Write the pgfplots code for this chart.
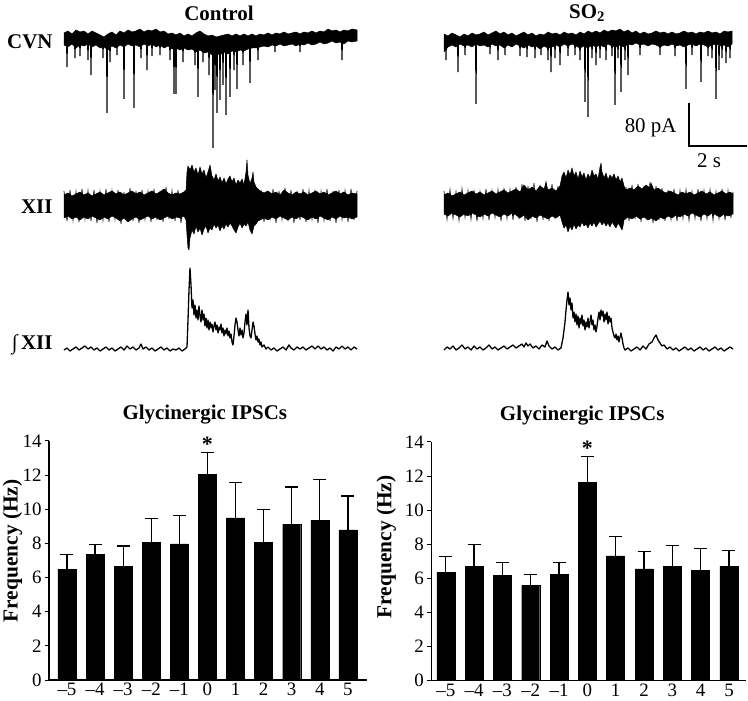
\documentclass[border=0pt]{standalone}
\usepackage{fontspec}
\setmainfont{Liberation Serif}
\usepackage{pgfplots}
\pgfplotsset{compat=1.18}
\newcommand{\sz}[1]{\fontsize{#1}{#1}\selectfont}
\pgfplotsset{
  barax/.style={
    scale only axis, anchor=south west,
    ymin=0, ymax=14, ytick={0,2,...,14},
    xtick={-5,...,5},
    xticklabels={--5,--4,--3,--2,--1,0,1,2,3,4,5},
    axis lines*=left,
    axis line style={line width=1.2bp},
    tick align=outside, major tick length=4bp,
    ytick style={line width=1bp, black},
    xtick style={draw=none},
    /pgf/number format/assume math mode=true,
    tick label style={font=\sz{19}},
    xticklabel style={inner sep=0.5pt, yshift=1.5bp},
    ylabel={\textbf{Frequency (Hz)}},
    ylabel style={font=\sz{21.5}, anchor=north, inner sep=0pt},
    title style={font=\sz{21}\bfseries},
    clip=false,
  },
  bars/.style={
    ybar, bar width=18bp, fill=black, draw=black,
    error bars/.cd, y dir=plus, y explicit,
    error bar style={line width=1.3bp, black},
    error mark options={rotate=90, mark size=6.5bp, line width=1.3bp, black},
  },
}
\begin{document}
\begin{tikzpicture}
\useasboundingbox (0,0) rectangle (748bp,701bp);
% ---------- traces, in pixel coordinates ----------
\begin{axis}[at={(0,0)}, anchor=south west, scale only axis,
  width=748bp, height=701bp, xmin=0, xmax=748, ymin=0, ymax=701,
  y dir=reverse, hide axis, clip=false]
% CVN control band
\addplot[fill=black, draw=black, line width=0.5bp, line join=round] coordinates {
(64,33)(68,31)(72,34)(76,30)(80,32)(84,31)(88,34)(92,31)(96,33)(100,35)(104,37)(108,34)(112,32)(116,35)(120,31)(124,33)(128,30)(132,32)(136,31)(140,29)(144,32)(148,30)(152,31)(156,29)(160,32)(164,31)(168,34)(172,33)(176,35)(180,33)(184,36)(188,34)(192,36)(196,33)(200,31)(204,34)(208,36)(212,35)(216,37)(220,36)(224,35)(228,34)(232,36)(236,34)(240,36)(244,34)(248,36)(252,34)(256,36)(260,34)(264,35)(268,33)(272,35)(276,33)(280,34)(284,32)(288,34)(292,33)(296,32)(300,34)(304,32)(308,33)(312,31)(316,33)(320,31)(324,32)(328,29)(332,31)(336,30)(340,32)(344,30)(348,31)(352,29)(357,30)
(357,41)(352,42)(348,41)(344,44)(340,42)(336,43)(332,41)(328,43)(324,44)(320,42)(316,44)(312,45)(308,43)(304,45)(300,44)(296,46)(292,44)(288,45)(284,46)(280,44)(276,46)(272,45)(268,47)(264,46)(260,47)(256,48)(252,48)(248,49)(244,51)(240,50)(236,52)(232,51)(228,54)(224,52)(220,55)(216,53)(212,55)(208,52)(204,53)(200,50)(196,52)(192,49)(188,50)(184,48)(180,50)(176,48)(172,49)(168,46)(164,48)(160,45)(156,47)(152,44)(148,46)(144,44)(140,47)(136,45)(132,46)(128,44)(124,47)(120,45)(116,48)(112,46)(108,50)(104,47)(100,48)(96,45)(92,47)(88,44)(84,46)(80,45)(76,48)(72,44)(68,47)(64,45)
} -- cycle;
% CVN control spikes
\addplot[black, line width=1.1bp] coordinates {
(64,40)(66.6,40)(67,67)(67.4,40)(74.6,40)(75,58)(75.4,40)(79.6,40)(80,56)(80.4,40)(87.6,40)(88,60)(88.4,40)(90.6,40)(91,75)(91.4,40)(102.6,40)(103,58)(103.4,40)(106.6,40)(107,113)(107.4,40)(109.6,40)(110,62)(110.4,40)(116.6,40)(117,55)(117.4,40)(123.6,40)(124,99)(124.4,40)(133.6,40)(134,108)(134.4,40)(140.6,40)(141,58)(141.4,40)(146.6,40)(147,70)(147.4,40)(151.6,40)(152,56)(152.4,40)(159.6,40)(160,55)(160.4,40)(169.6,40)(170,60)(170.4,40)(173.6,40)(174,94)(174.4,40)(175.6,40)(176,94)(176.4,40)(182.6,40)(183,62)(183.4,40)(194.6,40)(195,65)(195.4,40)(197.6,40)(198,97)(198.4,40)(202.6,40)(203,62)(203.4,40)(208.6,40)(209,75)(209.4,40)(212.6,40)(213,148)(213.4,40)(214.6,40)(215,90)(215.4,40)(216.6,40)(217,113)(217.4,40)(219.6,40)(220,100)(220.4,40)(222.6,40)(223,85)(223.4,40)(225.6,40)(226,115)(226.4,40)(229.6,40)(230,97)(230.4,40)(233.6,40)(234,70)(234.4,40)(236.6,40)(237,89)(237.4,40)(242.6,40)(243,65)(243.4,40)(249.6,40)(250,83)(250.4,40)(257.6,40)(258,60)(258.4,40)(274.6,40)(275,52)(275.4,40)(299.6,40)(300,52)(300.4,40)(341.6,40)(342,60)(342.4,40)(357,40)
};
% CVN SO2 band
\addplot[fill=black, draw=black, line width=0.5bp, line join=round] coordinates {
(444,34)(448,36)(452,33)(456,35)(460,37)(464,34)(468,36)(472,33)(476,35)(480,34)(484,32)(488,35)(492,33)(496,31)(500,34)(504,32)(508,35)(512,33)(516,36)(520,34)(524,32)(528,35)(532,33)(536,36)(540,34)(544,35)(548,32)(552,34)(556,33)(560,35)(564,32)(568,34)(572,33)(576,35)(580,32)(584,34)(588,31)(592,33)(596,31)(600,33)(604,30)(608,32)(612,30)(616,31)(620,29)(624,32)(628,30)(632,33)(636,31)(640,34)(644,32)(648,34)(652,33)(656,31)(660,33)(664,32)(668,34)(672,32)(676,34)(680,33)(684,31)(688,33)(692,32)(696,34)(700,32)(704,33)(708,31)(712,33)(716,32)(720,34)(724,31)(728,32)(732,31)
(732,44)(728,47)(724,45)(720,46)(716,44)(712,45)(708,47)(704,45)(700,44)(696,46)(692,44)(688,45)(684,47)(680,45)(676,46)(672,44)(668,46)(664,45)(660,47)(656,45)(652,44)(648,46)(644,44)(640,45)(636,43)(632,45)(628,44)(624,47)(620,45)(616,47)(612,46)(608,44)(604,47)(600,45)(596,47)(592,45)(588,48)(584,46)(580,48)(576,46)(572,44)(568,46)(564,44)(560,47)(556,45)(552,47)(548,48)(544,46)(540,49)(536,46)(532,47)(528,45)(524,48)(520,46)(516,44)(512,47)(508,45)(504,48)(500,45)(496,46)(492,44)(488,47)(484,45)(480,46)(476,44)(472,47)(468,45)(464,46)(460,44)(456,47)(452,45)(448,47)(444,52)
} -- cycle;
% CVN SO2 spikes
\addplot[black, line width=1.1bp] coordinates {
(444,40)(445.6,40)(446,60)(446.4,40)(457.6,40)(458,72)(458.4,40)(464.6,40)(465,55)(465.4,40)(475.6,40)(476,104)(476.4,40)(489.6,40)(490,54)(490.4,40)(497.6,40)(498,60)(498.4,40)(504.6,40)(505,55)(505.4,40)(519.6,40)(520,56)(520.4,40)(526.6,40)(527,57)(527.4,40)(534.6,40)(535,58)(535.4,40)(540.6,40)(541,55)(541.4,40)(547.6,40)(548,60)(548.4,40)(550.6,40)(551,72)(551.4,40)(554.6,40)(555,58)(555.4,40)(559.6,40)(560,65)(560.4,40)(567.6,40)(568,56)(568.4,40)(574.6,40)(575,55)(575.4,40)(579.6,40)(580,60)(580.4,40)(584.6,40)(585,102)(585.4,40)(587.6,40)(588,117)(588.4,40)(591.6,40)(592,58)(592.4,40)(595.6,40)(596,65)(596.4,40)(599.6,40)(600,58)(600.4,40)(605.6,40)(606,60)(606.4,40)(611.6,40)(612,56)(612.4,40)(614.6,40)(615,105)(615.4,40)(617.6,40)(618,58)(618.4,40)(620.6,40)(621,92)(621.4,40)(624.6,40)(625,60)(625.4,40)(627.6,40)(628,75)(628.4,40)(639.6,40)(640,55)(640.4,40)(659.6,40)(660,55)(660.4,40)(674.6,40)(675,56)(675.4,40)(685.6,40)(686,89)(686.4,40)(691.6,40)(692,55)(692.4,40)(700.6,40)(701,82)(701.4,40)(707.6,40)(708,56)(708.4,40)(711.6,40)(712,58)(712.4,40)(715.6,40)(716,99)(716.4,40)(718.6,40)(719,70)(719.4,40)(721.6,40)(722,58)(722.4,40)(725.6,40)(726,63)(726.4,40)(729.6,40)(730,58)(730.4,40)(732,40)
};
% XII control band
\addplot[fill=black, draw=black, line width=0.5bp, line join=round] coordinates {
(64,195)(68,193)(72,196)(76,194)(80,192)(84,195)(88,193)(92,196)(96,194)(100,192)(104,195)(108,193)(112,191)(116,194)(120,192)(124,195)(128,193)(132,191)(136,194)(140,192)(144,195)(148,193)(152,191)(156,194)(160,192)(164,189)(168,193)(172,195)(176,193)(180,194)(184,192)(186,190)(187,172)(188,166)(190,170)(192,165)(194,172)(196,168)(198,175)(200,167)(202,174)(204,170)(206,178)(208,172)(210,165)(212,176)(214,180)(216,174)(218,181)(220,177)(222,183)(224,178)(226,184)(228,179)(230,176)(232,182)(234,178)(236,185)(238,180)(240,183)(242,179)(244,185)(246,172)(247,160)(248,175)(250,184)(252,178)(253,172)(254,182)(256,187)(258,189)(260,191)(264,193)(268,191)(272,194)(276,192)(280,195)(284,190)(288,193)(292,195)(296,192)(300,194)(304,192)(308,195)(312,193)(316,191)(320,194)(324,192)(328,195)(332,193)(336,191)(340,194)(344,192)(348,195)(352,193)(357,194)
(357,217)(352,219)(348,217)(344,218)(340,216)(336,219)(332,217)(328,220)(324,218)(320,216)(316,219)(312,217)(308,220)(304,218)(300,216)(296,219)(292,217)(288,220)(284,218)(280,216)(276,219)(272,217)(268,220)(264,218)(260,220)(258,221)(256,224)(254,226)(252,234)(250,230)(248,222)(246,226)(244,224)(242,228)(240,223)(238,227)(236,233)(234,230)(232,226)(230,223)(228,227)(226,224)(224,229)(222,226)(220,231)(218,225)(216,228)(214,224)(212,230)(210,228)(208,233)(206,226)(204,229)(202,235)(200,228)(198,232)(196,226)(194,234)(192,230)(190,238)(189,250)(188,248)(187,235)(186,220)(184,216)(180,218)(176,217)(172,219)(168,216)(164,218)(160,220)(156,217)(152,219)(148,216)(144,218)(140,220)(136,217)(132,219)(128,222)(124,218)(120,221)(116,218)(112,216)(108,219)(104,217)(100,220)(96,218)(92,216)(88,219)(84,217)(80,220)(76,217)(72,219)(68,216)(64,218)
} -- cycle;
% XII control noise texture
\addplot[black, line width=0.7bp] coordinates {
(64,191)(67,221)(70,190)(73,220)(76,192)(79,222)(82,189)(85,219)(88,191)(91,221)(94,190)(97,223)(100,192)(103,220)(106,189)(109,222)(112,191)(115,219)(118,190)(121,224)(124,192)(127,220)(130,188)(133,221)(136,191)(139,223)(142,190)(145,219)(148,192)(151,222)(154,189)(157,220)(160,191)(163,222)(166,187)(169,219)(172,191)(175,221)(178,190)(181,223)(184,192)
};
\addplot[black, line width=0.7bp] coordinates {
(261,190)(264,222)(267,191)(270,220)(273,189)(276,223)(279,191)(282,219)(285,188)(288,221)(291,190)(294,223)(297,191)(300,220)(303,189)(306,222)(309,191)(312,219)(315,190)(318,223)(321,192)(324,220)(327,189)(330,221)(333,191)(336,223)(339,190)(342,219)(345,191)(348,222)(351,189)(354,220)(357,191)
};
% XII SO2 band
\addplot[fill=black, draw=black, line width=0.5bp, line join=round] coordinates {
(444,195)(448,193)(452,196)(456,194)(460,192)(464,195)(468,193)(472,191)(476,194)(480,192)(484,195)(488,193)(492,191)(496,194)(500,192)(504,190)(508,193)(512,191)(516,189)(520,192)(524,185)(528,190)(532,187)(536,191)(540,186)(544,189)(546,183)(548,190)(552,188)(556,191)(560,186)(562,176)(564,172)(566,178)(568,170)(570,175)(572,168)(574,176)(576,172)(578,179)(580,171)(582,177)(584,173)(586,180)(588,174)(590,178)(592,170)(594,176)(596,174)(598,179)(600,167)(601,163)(602,172)(604,178)(606,173)(608,180)(610,175)(612,178)(614,174)(616,180)(618,176)(620,182)(622,178)(624,186)(626,190)(630,188)(634,190)(638,186)(642,189)(646,185)(650,188)(651,183)(654,190)(658,188)(662,191)(666,193)(670,191)(674,193)(678,195)(682,192)(686,194)(690,192)(694,195)(698,193)(702,191)(706,194)(710,192)(714,195)(718,193)(722,191)(726,194)(730,192)(733,194)
(733,214)(728,216)(724,214)(720,217)(716,215)(712,213)(708,216)(704,214)(700,217)(696,215)(692,213)(688,216)(684,214)(680,217)(676,215)(672,218)(668,216)(664,219)(660,217)(656,221)(652,218)(648,220)(644,217)(640,219)(636,216)(632,219)(628,217)(624,220)(623,226)(622,230)(620,226)(618,223)(616,228)(614,225)(612,222)(610,227)(608,223)(606,226)(604,222)(602,225)(600,221)(598,224)(596,227)(594,222)(592,226)(590,223)(588,228)(586,224)(584,226)(582,222)(580,227)(578,225)(576,229)(574,224)(572,230)(570,226)(568,232)(566,225)(564,228)(562,222)(560,215)(556,218)(552,216)(548,219)(544,217)(540,215)(536,218)(532,216)(528,220)(524,215)(520,218)(516,215)(512,213)(508,216)(504,214)(500,217)(496,215)(492,213)(488,216)(484,214)(480,217)(476,215)(472,213)(468,216)(464,214)(460,217)(456,215)(452,213)(448,216)(444,214)
} -- cycle;
% XII SO2 noise texture
\addplot[black, line width=0.7bp] coordinates {
(444,191)(447,219)(450,190)(453,218)(456,192)(459,220)(462,189)(465,217)(468,191)(471,219)(474,190)(477,221)(480,192)(483,218)(486,189)(489,220)(492,191)(495,217)(498,190)(501,221)(504,188)(507,218)(510,190)(513,220)(516,187)(519,219)(522,184)(525,221)(528,186)(531,219)(534,183)(537,222)(540,185)(543,220)(546,181)(549,221)(552,184)(555,219)(558,186)
};
\addplot[black, line width=0.7bp] coordinates {
(626,187)(629,221)(632,185)(635,219)(638,184)(641,222)(644,186)(647,220)(650,182)(653,223)(656,186)(659,220)(662,188)(665,221)(668,190)(671,219)(674,189)(677,221)(680,191)(683,218)(686,190)(689,220)(692,192)(695,218)(698,189)(701,221)(704,191)(707,218)(710,190)(713,220)(716,192)(719,218)(722,189)(725,220)(728,191)(731,218)(733,192)
};
% integrated XII control
\addplot[black, line width=1.3bp, line join=round] coordinates {
(64,350)(67,348)(70,351)(73,349)(76,347)(79,350)(82,348)(85,346)(88,349)(91,347)(94,350)(97,348)(100,351)(103,349)(106,347)(109,350)(112,348)(115,351)(118,349)(121,347)(124,350)(127,346)(130,349)(133,347)(136,350)(139,348)(141,344)(143,349)(146,347)(149,350)(152,348)(155,351)(158,349)(161,347)(164,350)(167,348)(170,351)(173,349)(176,350)(179,348)(182,351)(185,349)(187,347)(188,320)(189,290)(190,268)(191,285)(192,308)(193,300)(194,315)(195,305)(196,318)(197,310)(198,320)(199,306)(200,316)(201,322)(202,310)(203,320)(204,314)(205,326)(206,318)(207,328)(208,320)(209,330)(210,322)(211,328)(212,324)(213,332)(214,326)(215,322)(216,330)(217,325)(218,333)(219,327)(220,330)(221,324)(222,333)(223,328)(224,336)(225,330)(226,334)(227,328)(228,336)(229,331)(230,338)(231,334)(232,342)(233,345)(234,336)(235,325)(236,318)(237,322)(238,330)(239,336)(240,328)(241,335)(242,330)(243,338)(244,333)(245,322)(246,314)(247,325)(248,310)(249,328)(250,336)(251,338)(252,330)(253,322)(254,326)(255,334)(256,340)(257,336)(258,342)(259,339)(260,345)(261,342)(262,347)(264,345)(266,349)(268,347)(271,350)(274,348)(277,351)(280,349)(283,347)(286,350)(289,345)(291,348)(294,350)(297,347)(300,349)(303,347)(306,350)(309,348)(312,346)(315,349)(318,346)(321,349)(324,347)(327,350)(330,348)(333,351)(336,347)(339,349)(342,346)(345,349)(348,347)(351,350)(354,347)(357,349)
};
% integrated XII SO2
\addplot[black, line width=1.3bp, line join=round] coordinates {
(444,350)(447,347)(450,349)(453,346)(456,350)(459,348)(462,345)(465,349)(468,347)(471,350)(474,346)(477,349)(480,347)(483,350)(486,348)(489,345)(492,349)(495,347)(498,350)(501,348)(504,346)(507,349)(510,347)(513,345)(516,348)(519,346)(522,344)(524,347)(526,343)(528,346)(530,344)(533,348)(536,346)(539,349)(542,345)(545,347)(547,341)(549,346)(552,349)(555,347)(558,350)(561,348)(563,338)(564,330)(565,322)(566,310)(567,300)(568,292)(569,305)(570,298)(571,310)(572,303)(573,318)(574,312)(575,322)(576,314)(577,325)(578,316)(579,328)(580,318)(581,324)(582,315)(583,326)(584,320)(585,330)(586,322)(587,327)(588,318)(589,328)(590,322)(591,315)(592,325)(593,320)(594,330)(595,325)(596,332)(597,326)(598,318)(599,312)(600,320)(601,310)(602,316)(603,311)(604,322)(605,314)(606,320)(607,312)(608,324)(609,316)(610,322)(611,318)(612,328)(613,332)(614,336)(615,338)(616,334)(617,340)(618,336)(619,342)(620,337)(621,333)(622,338)(623,344)(624,348)(625,350)(628,348)(631,351)(634,349)(637,347)(640,350)(643,346)(646,349)(649,344)(652,342)(654,338)(656,335)(658,340)(660,343)(662,346)(664,345)(667,349)(670,347)(673,350)(676,348)(679,351)(682,349)(685,347)(688,350)(691,348)(694,351)(697,349)(700,347)(703,350)(706,348)(709,351)(712,349)(715,347)(718,350)(721,348)(724,351)(727,349)(730,347)(733,349)
};
% scale bar
\addplot[black, line width=1.1bp] coordinates {(689,103)(689,146)(747,146)};
% labels
\node[font=\sz{21}\bfseries] at (axis cs:219,13) {Control};
\node[font=\sz{21}\bfseries] at (axis cs:587,13) {SO\textsubscript{2}};
\node[font=\sz{21}\bfseries, anchor=east] at (axis cs:56,42) {CVN};
\node[font=\sz{21}\bfseries, anchor=east] at (axis cs:56,207) {XII};
\node[font=\sz{21}\bfseries, anchor=east] at (axis cs:56,345) {∫\,XII};
\node[font=\sz{21}, anchor=east] at (axis cs:680,128) {80 pA};
\node[font=\sz{21}] at (axis cs:709,161) {2 s};
\end{axis}
% ---------- bar charts ----------
\begin{axis}[barax, at={(49bp,21bp)}, width=318bp, height=239bp,
  xmin=-5.64, xmax=5.68,
  title={Glycinergic IPSCs}, title style={at={(axis description cs:0.49,1.03)}, anchor=south},
  ylabel style={at={(axis description cs:-0.146,0.54)}}]
\addplot[bars] coordinates {
(-5,6.50) +- (0,0.85)
(-4,7.36) +- (0,0.57)
(-3,6.66) +- (0,1.19)
(-2,8.05) +- (0,1.40)
(-1,7.97) +- (0,1.66)
(0,12.04) +- (0,1.28)
(1,9.49) +- (0,2.07)
(2,8.05) +- (0,1.93)
(3,9.12) +- (0,2.18)
(4,9.37) +- (0,2.38)
(5,8.79) +- (0,1.99)
};
\node[font=\sz{22}\bfseries, anchor=south, inner sep=0pt] at (axis cs:0,13.35) {*};
\end{axis}
\begin{axis}[barax, at={(431.3bp,20.5bp)}, width=314.4bp, height=238.5bp,
  xmin=-5.51, xmax=5.59,
  title={Glycinergic IPSCs}, title style={at={(axis description cs:0.48,1.03)}, anchor=south},
  ylabel style={at={(axis description cs:-0.175,0.56)}}]
\addplot[bars] coordinates {
(-5,6.34) +- (0,0.95)
(-4,6.71) +- (0,1.29)
(-3,6.18) +- (0,0.76)
(-2,5.58) +- (0,0.64)
(-1,6.24) +- (0,0.70)
(0,11.65) +- (0,1.49)
(1,7.31) +- (0,1.16)
(2,6.55) +- (0,1.02)
(3,6.71) +- (0,1.21)
(4,6.45) +- (0,1.31)
(5,6.71) +- (0,0.94)
};
\node[font=\sz{22}\bfseries, anchor=south, inner sep=0pt] at (axis cs:0,13.2) {*};
\end{axis}
\end{tikzpicture}
\end{document}
